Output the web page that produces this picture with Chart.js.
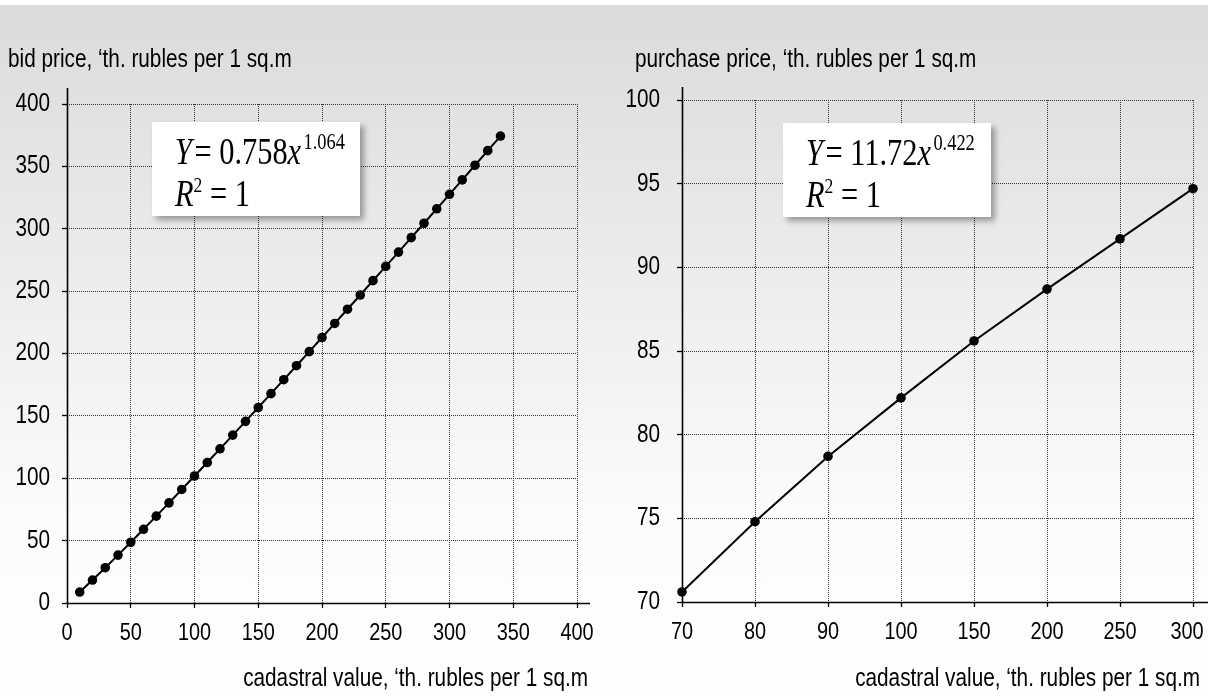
<!DOCTYPE html>
<html>
<head>
<meta charset="utf-8">
<script src="https://cdn.jsdelivr.net/npm/chart.js@4.4.1/dist/chart.umd.min.js"></script>
<style>
  html, body { margin: 0; padding: 0; }
  body {
    width: 1208px; height: 696px; overflow: hidden; position: relative;
    background: linear-gradient(to bottom, #fff 0px, #fff 5px, #dbdbdb 5px, #fcfcfc 520px, #fff 696px);
  }
  .pane { position: absolute; top: 0; height: 696px; }
  #leftPane { left: 0; width: 600px; }
  #rightPane { left: 600px; width: 608px; }
  .eq {
    position: absolute; width: 208px; height: 94px; background: #fff;
    box-shadow: 4px 4px 6px rgba(0, 0, 0, 0.35);
    font-family: 'Liberation Serif', 'Times New Roman', serif; color: #000;
  }
  .eq div {
    position: absolute; left: 23px; white-space: nowrap;
    font-size: 38px; line-height: 1;
    transform: scaleX(0.8); transform-origin: left top;
  }
  .eq .l1 { top: 8px; }
  .eq .l2 { top: 52px; }
  .eq .sup { font-size: 23px; vertical-align: 15px; margin-left: 3px; }
  .eq .sq { font-size: 22px; vertical-align: 14px; }
</style>
</head>
<body>
<div class="pane" id="leftPane"><canvas id="bidChart"></canvas></div>
<div class="pane" id="rightPane"><canvas id="purchaseChart"></canvas></div>

<div class="eq" style="left:152px; top:122px;">
  <div class="l1"><i>Y</i>&#8202;= 0.758<i>x</i><span class="sup">1.064</span></div>
  <div class="l2"><i>R</i><span class="sq">2</span> = 1</div>
</div>
<div class="eq" style="left:783px; top:123px;">
  <div class="l1"><i>Y</i>&#8202;= 11.72<i>x</i><span class="sup">0.422</span></div>
  <div class="l2"><i>R</i><span class="sq">2</span> = 1</div>
</div>

<script>
// left chart: bid price vs cadastral value
const bidX = [10, 20, 30, 40, 50, 60, 70, 80, 90, 100, 110, 120, 130, 140, 150, 160, 170,
              180, 190, 200, 210, 220, 230, 240, 250, 260, 270, 280, 290, 300, 310, 320, 330, 340];
const bidY = [8.8, 18.4, 28.3, 38.4, 48.7, 59.1, 69.6, 80.3, 91.0, 101.8, 112.6, 123.6, 134.6,
              145.6, 156.7, 167.8, 179.0, 190.2, 201.5, 212.8, 224.1, 235.5, 246.9, 258.4, 269.8,
              281.3, 292.9, 304.4, 316.0, 327.6, 339.2, 350.9, 362.6, 374.3];
const bidXTicks = [0, 50, 100, 150, 200, 250, 300, 350, 400];
const bidYTicks = [0, 50, 100, 150, 200, 250, 300, 350, 400];

// right chart: purchase price vs cadastral value
const purchaseCats = ['70', '80', '90', '100', '150', '200', '250', '300'];
const purchaseY = [70.6, 74.8, 78.7, 82.2, 85.6, 88.7, 91.7, 94.7];
const purchaseYTicks = [70, 75, 80, 85, 90, 95, 100];

const leftTitle = 'bid price, \u2018th. rubles per 1 sq.m';
const rightTitle = 'purchase price, \u2018th. rubles per 1 sq.m';
const xTitle = 'cadastral value, \u2018th. rubles per 1 sq.m';

// no condensed font installed: squeeze canvas text horizontally instead
const squeeze = 0.83;
const baseFill = CanvasRenderingContext2D.prototype.fillText;
const baseMeasure = CanvasRenderingContext2D.prototype.measureText;
CanvasRenderingContext2D.prototype.fillText = function (text, x, y) {
  this.save();
  this.translate(x, y);
  this.scale(squeeze, 1);
  baseFill.call(this, text, 0, 0);
  this.restore();
};
CanvasRenderingContext2D.prototype.measureText = function (text) {
  const m = baseMeasure.call(this, text);
  return {
    width: m.width * squeeze,
    actualBoundingBoxAscent: m.actualBoundingBoxAscent,
    actualBoundingBoxDescent: m.actualBoundingBoxDescent,
    actualBoundingBoxLeft: m.actualBoundingBoxLeft * squeeze,
    actualBoundingBoxRight: m.actualBoundingBoxRight * squeeze
  };
};

Chart.defaults.font.family = "'Liberation Sans', Arial, sans-serif";
Chart.defaults.color = '#000';

// solid axis lines that run a little past the grid box
const axisLines = {
  id: 'axisLines',
  beforeDatasetsDraw(chart, args, opts) {
    const { ctx, chartArea: a } = chart;
    const l = Math.round(a.left) + 0.5;
    const b = Math.round(a.bottom) + 0.5;
    ctx.save();
    ctx.strokeStyle = '#000';
    ctx.lineWidth = 1.6;
    ctx.beginPath();
    ctx.moveTo(l, a.top - opts.extendTop);
    ctx.lineTo(l, b);
    ctx.moveTo(l, b);
    ctx.lineTo(a.right + opts.extendRight, b);
    ctx.stroke();
    ctx.restore();
  }
};

function gridOpts() {
  return { color: '#333', lineWidth: 1, tickLength: 5, tickColor: '#000', tickWidth: 1.3, tickBorderDash: [] };
}

function makeChart(id, cfg) {
  const canvas = document.getElementById(id);
  canvas.width = cfg.w;
  canvas.height = 696;
  return new Chart(canvas, {
    type: 'line',
    data: {
      labels: cfg.labels,
      datasets: [{
        data: cfg.data,
        borderColor: '#000',
        backgroundColor: '#000',
        borderWidth: 2,
        pointRadius: 4.8,
        pointBorderWidth: 0,
        pointBackgroundColor: '#000',
        tension: 0,
        clip: false
      }]
    },
    options: {
      responsive: false,
      animation: false,
      events: [],
      layout: { padding: { left: cfg.padLeft, right: cfg.padRight, top: 0, bottom: 0 } },
      plugins: {
        legend: { display: false },
        tooltip: { enabled: false },
        title: {
          display: true, text: cfg.title, align: 'start', color: '#000',
          font: { size: 25, weight: 'normal' },
          padding: { top: 45, bottom: cfg.titleGap }
        },
        subtitle: {
          display: true, position: 'bottom', text: xTitle, align: 'end', color: '#000',
          font: { size: 25, weight: 'normal' },
          padding: { top: 0, bottom: 2 }
        },
        axisLines: { extendTop: cfg.extendTop, extendRight: cfg.extendRight }
      },
      scales: {
        x: Object.assign({
          grid: gridOpts(),
          border: { display: false, dash: [1, 1] },
          ticks: { font: { size: 24 }, padding: 11, maxRotation: 0, autoSkip: false },
          afterFit(s) {
            s.height = cfg.xHeight; s.paddingLeft = 0; s.paddingRight = 0;
            // pull the last label in a little so it stays inside the picture
            if (cfg.lastLabelShift && !s._shiftWrapped) {
              const base = s._computeLabelItems.bind(s);
              s._computeLabelItems = (area) => {
                const items = base(area);
                const last = items[items.length - 1];
                if (last) last.options.translation[0] -= cfg.lastLabelShift;
                return items;
              };
              s._shiftWrapped = true;
            }
          }
        }, cfg.x),
        y: {
          min: cfg.yTicks[0], max: cfg.yTicks[cfg.yTicks.length - 1],
          grid: gridOpts(),
          border: { display: false, dash: [1, 1] },
          ticks: { font: { size: 25 }, padding: cfg.yPad },
          afterBuildTicks(s) { s.ticks = cfg.yTicks.map(v => ({ value: v })); },
          afterFit(s) {
            s.width = cfg.yWidth; s.paddingTop = 0; s.paddingBottom = 0;
            // labels may hang left of the axis box (the title sets its left edge)
            s._computeLabelArea = () => undefined;
          }
        },
        // empty strip on the right so the bottom caption can reach past the grid
        gap: {
          type: 'linear', position: 'right', display: true,
          grid: { display: false, drawTicks: false },
          border: { display: false },
          ticks: { display: false },
          afterFit(s) { s.width = cfg.gapRight; s.paddingTop = 0; s.paddingBottom = 0; }
        }
      }
    },
    plugins: [axisLines]
  });
}

makeChart('bidChart', {
  w: 600, title: leftTitle, titleGap: 29,
  padLeft: 8, padRight: 12, gapRight: 11, yWidth: 59, yPad: 12, xHeight: 61,
  extendTop: 16, extendRight: 13, lastLabelShift: 0,
  labels: undefined,
  data: bidX.map((x, i) => ({ x: x, y: bidY[i] })),
  yTicks: bidYTicks,
  x: {
    type: 'linear', min: bidXTicks[0], max: bidXTicks[bidXTicks.length - 1],
    afterBuildTicks(s) { s.ticks = bidXTicks.map(v => ({ value: v })); }
  }
});

makeChart('purchaseChart', {
  w: 608, title: rightTitle, titleGap: 25,
  padLeft: 35, padRight: 8, gapRight: 7, yWidth: 47, yPad: 17, xHeight: 62,
  extendTop: 13, extendRight: 15, lastLabelShift: 6,
  labels: purchaseCats,
  data: purchaseY,
  yTicks: purchaseYTicks,
  x: { type: 'category', offset: false }
});
</script>
</body>
</html>
